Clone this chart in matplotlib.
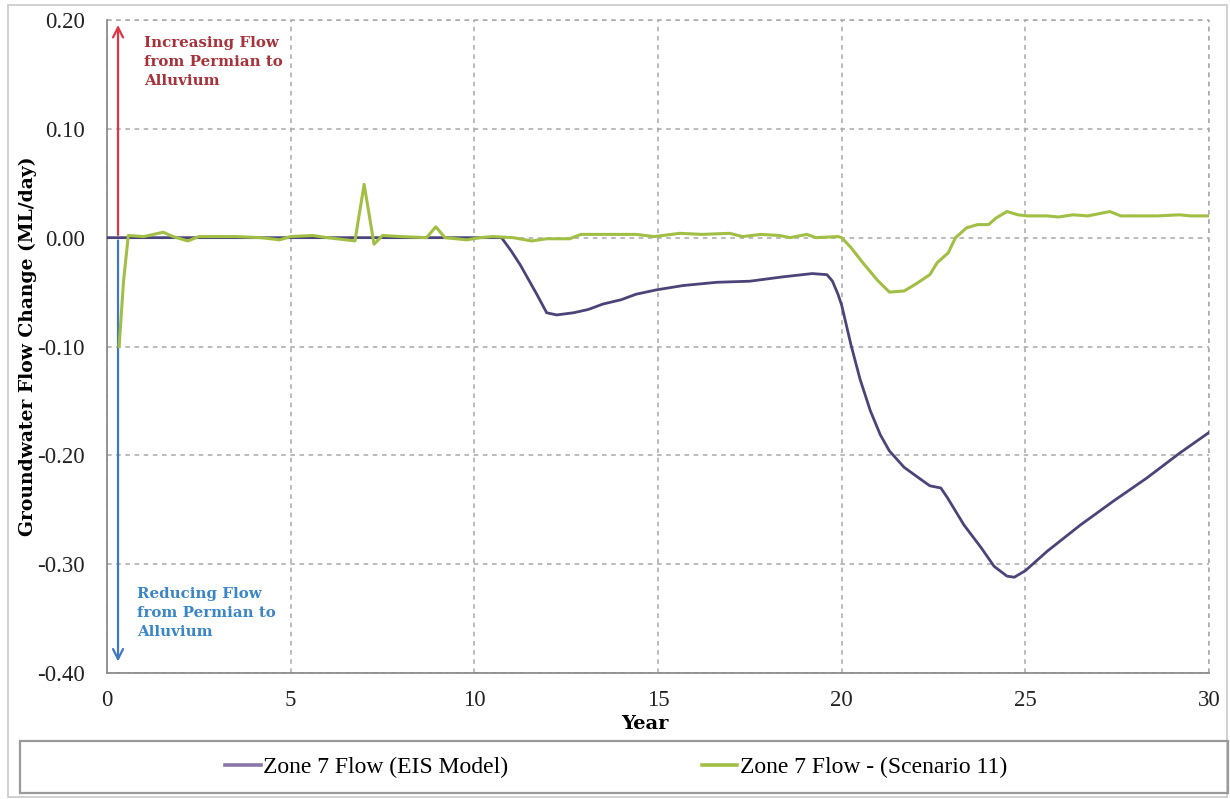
import matplotlib
matplotlib.use("Agg")
import matplotlib.pyplot as plt
from matplotlib.lines import Line2D
from matplotlib.patches import Rectangle

# ---------------- data ----------------
eis_years = [0, 10.74, 11.0, 11.25, 11.5, 11.7, 11.97, 12.24, 12.7, 13.1, 13.5, 14.0, 14.4,
             14.95, 15.68, 16.6, 17.5, 18.4, 19.2, 19.6, 19.75, 19.9, 20.0, 20.25, 20.5,
             20.78, 21.05, 21.3, 21.7, 22.15, 22.4, 22.7, 22.88, 23.33, 23.8, 24.15, 24.5,
             24.7, 25.0, 25.6, 26.5, 27.4, 28.3, 29.2, 30.0]
eis_flow = [0.0, 0.0, -0.012, -0.025, -0.040, -0.052, -0.069, -0.071, -0.069, -0.066, -0.061,
            -0.057, -0.052, -0.048, -0.044, -0.041, -0.040, -0.036, -0.033, -0.034, -0.040,
            -0.052, -0.062, -0.098, -0.130, -0.159, -0.181, -0.196, -0.211, -0.222, -0.228,
            -0.230, -0.239, -0.264, -0.285, -0.302, -0.311, -0.312, -0.306, -0.288, -0.264,
            -0.242, -0.221, -0.198, -0.179]

scen_years = [0.33, 0.45, 0.58, 1.0, 1.53, 1.8, 2.2, 2.5, 3.5, 4.2, 4.7, 5.0, 5.6, 6.0, 6.75,
              7.0, 7.27, 7.5, 8.0, 8.7, 8.95, 9.2, 9.8, 10.15, 10.5, 11.06, 11.56, 11.97,
              12.6, 12.9, 13.7, 14.4, 14.9, 15.6, 16.2, 16.95, 17.3, 17.8, 18.3, 18.6, 19.05,
              19.3, 19.9, 20.0, 20.25, 20.6, 20.97, 21.3, 21.7, 22.0, 22.4, 22.6, 22.9, 23.1,
              23.4, 23.7, 24.0, 24.2, 24.5, 24.8, 25.05, 25.6, 25.9, 26.3, 26.7, 27.3, 27.6,
              28.6, 29.2, 29.5, 30.0]
scen_flow = [-0.10, -0.04, 0.002, 0.001, 0.005, 0.001, -0.003, 0.001, 0.001, 0.0, -0.002,
             0.001, 0.002, 0.0, -0.003, 0.049, -0.006, 0.002, 0.001, 0.0, 0.010, 0.0, -0.002,
             0.0, 0.001, 0.0, -0.003, -0.001, -0.001, 0.003, 0.003, 0.003, 0.001, 0.004,
             0.003, 0.004, 0.001, 0.003, 0.002, 0.0, 0.003, 0.0, 0.001, 0.0, -0.009, -0.024,
             -0.039, -0.050, -0.049, -0.043, -0.034, -0.023, -0.014, 0.0, 0.009, 0.012, 0.012,
             0.018, 0.024, 0.021, 0.020, 0.020, 0.019, 0.021, 0.020, 0.024, 0.020, 0.020,
             0.021, 0.020, 0.020]

series_labels = ["Zone 7 Flow (EIS Model)", "Zone 7 Flow - (Scenario 11)"]
x_ticks = [0, 5, 10, 15, 20, 25, 30]
y_ticks = [0.20, 0.10, 0.00, -0.10, -0.20, -0.30, -0.40]
arrow_x = 0.3
up_note = "Increasing Flow\nfrom Permian to\nAlluvium"
down_note = "Reducing Flow\nfrom Permian to\nAlluvium"

# ---------------- style ----------------
SERIF = ["Liberation Serif", "DejaVu Serif"]
BSERIF = ["DejaVu Serif", "Liberation Serif"]
purple = "#4b4478"
purple_leg = "#8a76a8"
green = "#a2bf45"
grid_c = "#a8a8a8"

fig = plt.figure(figsize=(12.30, 7.99), dpi=100)
ax = fig.add_axes([107 / 1230, 126 / 799, (1209 - 107) / 1230, (673 - 20) / 799])

ax.plot(eis_years, eis_flow, color=purple, lw=2.0, zorder=3, solid_joinstyle="round")
ax.plot(scen_years, scen_flow, color=green, lw=2.2, zorder=4, solid_joinstyle="round")

ax.set_xlim(0, 30)
ax.set_ylim(-0.40, 0.20)
ax.set_xticks(x_ticks)
ax.set_yticks(y_ticks)
ax.set_yticklabels([f"{v:.2f}" for v in y_ticks])
ax.tick_params(length=0, labelsize=16.5)
ax.tick_params(axis="y", pad=16)
ax.tick_params(axis="x", pad=12)
for lab in ax.get_xticklabels() + ax.get_yticklabels():
    lab.set_family(SERIF)
    lab.set_color("#222222")

ax.grid(True, color=grid_c, linestyle=(0, (3, 3)), linewidth=1.1)
for s in ["top", "right"]:
    ax.spines[s].set_visible(False)
for s in ["left", "bottom"]:
    ax.spines[s].set_color("#8c8c8c")
    ax.spines[s].set_linewidth(1.3)
ax.axhline(0.20, color=grid_c, linestyle=(0, (3, 3)), linewidth=1.1, clip_on=False)
ax.axvline(30, color=grid_c, linestyle=(0, (3, 3)), linewidth=1.1, clip_on=False)

ax.set_xlabel("Year", family=BSERIF, fontweight="bold", fontsize=14)
ax.set_ylabel("Groundwater Flow Change (ML/day)", family=BSERIF, fontweight="bold",
              fontsize=13.5)
ax.yaxis.set_label_coords(-0.0635, 0.5)
ax.xaxis.set_label_coords(0.488, -0.064)

# arrows
ax.annotate("", xy=(arrow_x, 0.198), xytext=(arrow_x, 0.0),
            arrowprops=dict(arrowstyle="->", color="#e03545", lw=1.6, mutation_scale=18))
ax.annotate("", xy=(arrow_x, -0.392), xytext=(arrow_x, 0.0),
            arrowprops=dict(arrowstyle="->", color="#3f78c0", lw=1.6, mutation_scale=18))
ax.text(1.0, 0.185, up_note, color="#a8323a", fontsize=10.8, fontweight="bold",
        family=BSERIF, va="top", ha="left", linespacing=1.45)
ax.text(0.82, -0.321, down_note, color="#3a86c8", fontsize=10.8, fontweight="bold",
        family=BSERIF, va="top", ha="left", linespacing=1.45)

# outer chart border
fig.patches.append(Rectangle((8 / 1230, 2 / 799), 1219 / 1230, 792 / 799,
                             transform=fig.transFigure, fill=False,
                             edgecolor="#c8c8c8", lw=1.2))
# legend box
fig.patches.append(Rectangle((20 / 1230, 6 / 799), 1208 / 1230, 52 / 799,
                             transform=fig.transFigure, fill=False,
                             edgecolor="#9a9a9a", lw=1.6))
handles = [Line2D([], [], color=purple_leg, lw=2.6), Line2D([], [], color=green, lw=2.6)]
fig.legend(handles, series_labels, loc="center", bbox_to_anchor=(616 / 1230, 32 / 799),
           ncol=2, frameon=False, prop={"family": SERIF, "size": 17},
           handlelength=1.5, handletextpad=0.1, columnspacing=8.2)

fig.savefig("out.png", dpi=100)
